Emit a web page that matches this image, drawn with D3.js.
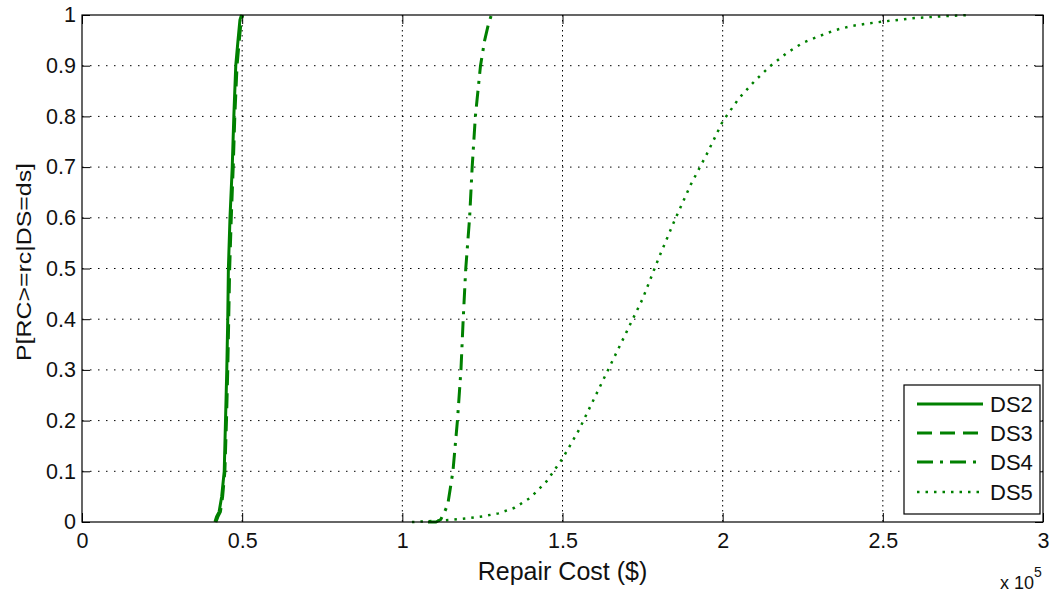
<!DOCTYPE html>
<html>
<head>
<meta charset="utf-8">
<script src="https://cdn.jsdelivr.net/npm/d3@7"></script>
<style>
  html, body { margin: 0; padding: 0; background: #fff; }
  svg { display: block; }
  text { font-family: "Liberation Sans", Arial, Helvetica, sans-serif; fill: #111; }
</style>
</head>
<body>
<svg id="chart" width="1052" height="594"></svg>
<script>
// ---- Data (repair cost in $, probability) ----
const seriesNames = ["DS2", "DS3", "DS4", "DS5"];
const ds2 = [[41500,0],[42000,0.01],[42800,0.02],[43600,0.05],[44400,0.1],[44800,0.2],[45200,0.3],[45500,0.4],[45700,0.5],[46200,0.6],[46900,0.7],[47400,0.8],[48000,0.9],[48700,0.95],[49300,0.99],[49800,1]];
const ds3 = [[41800,0],[42400,0.01],[43200,0.02],[43900,0.05],[44600,0.1],[45100,0.2],[45500,0.3],[45800,0.4],[46100,0.5],[46600,0.6],[47200,0.7],[47700,0.8],[48400,0.9],[49100,0.95],[49700,0.99],[50200,1]];
const ds4 = [[108000,0],[110500,0],[112000,0.005],[113200,0.02],[114200,0.035],[115800,0.1],[117200,0.2],[118300,0.3],[119000,0.4],[119800,0.5],[121000,0.6],[121800,0.7],[122800,0.8],[124400,0.9],[125700,0.95],[126800,0.98],[127800,1]];
const ds5 = [[103000,0],[110000,0.002],[115000,0.004],[120000,0.007],[125000,0.011],[130000,0.017],[135000,0.028],[140000,0.048],[145000,0.08],[150000,0.125],[155000,0.18],[160000,0.245],[165000,0.31],[170000,0.375],[175000,0.44],[180000,0.52],[185000,0.595],[190000,0.665],[195000,0.725],[200000,0.79],[205000,0.835],[210000,0.87],[215000,0.9],[220000,0.925],[225000,0.945],[230000,0.958],[235000,0.97],[240000,0.978],[245000,0.983],[250000,0.987],[260000,0.994],[270000,0.998],[277000,1]];
const xTicks = [0, 50000, 100000, 150000, 200000, 250000, 300000];
const xTickLabels = ["0", "0.5", "1", "1.5", "2", "2.5", "3"];
const yTicks = [0, 0.1, 0.2, 0.3, 0.4, 0.5, 0.6, 0.7, 0.8, 0.9, 1];
const yTickLabels = ["0", "0.1", "0.2", "0.3", "0.4", "0.5", "0.6", "0.7", "0.8", "0.9", "1"];

// ---- Layout ----
const L = 82, R = 1043, T = 15, B = 522;
const svg = d3.select("#chart");
const x = d3.scaleLinear().domain([0, 300000]).range([L, R]);
const y = d3.scaleLinear().domain([0, 1]).range([B, T]);
const green = "#008000";

// grid
const grid = svg.append("g");
grid.selectAll("line.gx").data(xTicks.slice(1, -1)).join("line")
  .attr("x1", d => x(d)).attr("x2", d => x(d)).attr("y1", T).attr("y2", B)
  .attr("stroke", "#000").attr("stroke-width", 1).attr("stroke-dasharray", "1.5,3.5");
grid.selectAll("line.gy").data(yTicks.slice(1, -1)).join("line")
  .attr("x1", L).attr("x2", R).attr("y1", d => y(d)).attr("y2", d => y(d))
  .attr("stroke", "#000").attr("stroke-width", 1).attr("stroke-dasharray", "1.5,6.5");

// curves
const line = d3.line().x(d => x(d[0])).y(d => y(d[1]));
const styles = [
  { data: ds2, dash: null, w: 3 },
  { data: ds3, dash: "15,8", w: 3 },
  { data: ds4, dash: "16,7,3,7", w: 3 },
  { data: ds5, dash: "2.5,6", w: 2.5 }
];
styles.forEach(s => {
  svg.append("path").datum(s.data).attr("d", line)
    .attr("fill", "none").attr("stroke", green).attr("stroke-width", s.w)
    .attr("stroke-dasharray", s.dash);
});

// axes
function styleAxis(g) {
  g.select(".domain").remove();
  g.selectAll(".tick line").attr("stroke", "#000").attr("stroke-width", 1);
  g.selectAll(".tick text").style("font-size", "21.5px").attr("fill", "#111");
}
svg.append("g").attr("transform", `translate(0,${B})`)
  .call(d3.axisBottom(x).tickValues(xTicks).tickFormat((d, i) => xTickLabels[i]).tickSizeInner(-9).tickSizeOuter(0).tickPadding(11))
  .call(styleAxis);
svg.append("g").attr("transform", `translate(0,${T})`)
  .call(d3.axisTop(x).tickValues(xTicks).tickFormat("").tickSizeInner(-9).tickSizeOuter(0))
  .call(styleAxis);
svg.append("g").attr("transform", `translate(${L},0)`)
  .call(d3.axisLeft(y).tickValues(yTicks).tickFormat((d, i) => yTickLabels[i]).tickSizeInner(-8).tickSizeOuter(0).tickPadding(6))
  .call(styleAxis);
svg.append("g").attr("transform", `translate(${R},0)`)
  .call(d3.axisRight(y).tickValues(yTicks).tickFormat("").tickSizeInner(-8).tickSizeOuter(0))
  .call(styleAxis);

// box
svg.append("rect").attr("x", L).attr("y", T).attr("width", R - L).attr("height", B - T)
  .attr("fill", "none").attr("stroke", "#000").attr("stroke-width", 1.2);

// axis labels
svg.append("text").attr("x", (L + R) / 2).attr("y", 580).attr("text-anchor", "middle")
  .style("font-size", "25px").text("Repair Cost ($)");
svg.append("text").attr("transform", "translate(31,262) rotate(-90)").attr("text-anchor", "middle")
  .attr("textLength", 198).attr("lengthAdjust", "spacingAndGlyphs")
  .style("font-size", "20px").text("P[RC>=rc|DS=ds]");
const mult = svg.append("text").attr("x", 1000).attr("y", 589).style("font-size", "18px");
mult.append("tspan").text("x 10");
mult.append("tspan").attr("dy", -12).style("font-size", "14px").text("5");

// legend
const lg = svg.append("g");
lg.append("rect").attr("x", 904).attr("y", 385).attr("width", 136).attr("height", 129)
  .attr("fill", "#fff").attr("stroke", "#000").attr("stroke-width", 1.2);
const ly = [404, 433, 462, 492];
styles.forEach((s, i) => {
  lg.append("line").attr("x1", 917).attr("x2", 983).attr("y1", ly[i]).attr("y2", ly[i])
    .attr("stroke", green).attr("stroke-width", s.w).attr("stroke-dasharray", s.dash);
  lg.append("text").attr("x", 990).attr("y", ly[i]).attr("dy", "0.36em")
    .style("font-size", "22px").text(seriesNames[i]);
});
</script>
</body>
</html>
